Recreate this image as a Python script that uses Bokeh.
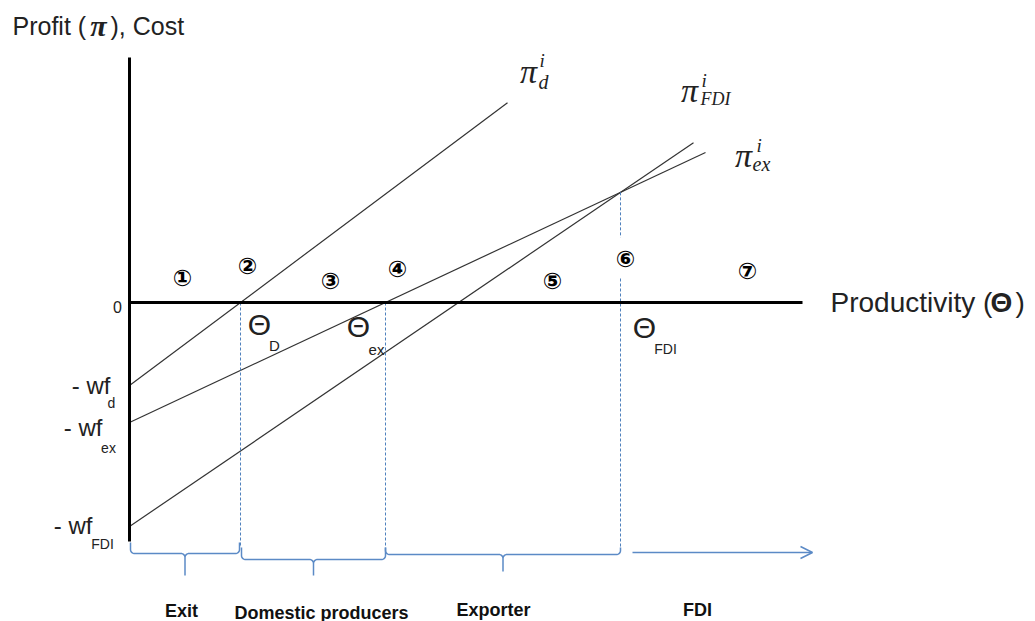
from bokeh.plotting import figure
from bokeh.models import Range1d, Arrow, OpenHead
from bokeh.core.properties import value
from bokeh.embed import file_html
from bokeh.resources import INLINE
import numpy as np

# ---------------- data ----------------
segments = ["d", "ex", "FDI"]
fixed_cost = [0.83, 1.20, 2.24]          # wf_d, wf_ex, wf_FDI  (profit at zero productivity = -wf)
line_end_x = [3.78, 5.76, 5.64]          # where each profit line is drawn to
theta_D = 1.11
theta_ex = 2.56
theta_FDI = 4.91
region_names = ["Exit", "Domestic producers", "Exporter", "FDI"]
region_bounds = [0.01, theta_D, theta_ex, theta_FDI, 6.83]
region_label_x = [0.52, 1.92, 3.64, 5.68]
region_label_y = [-3.08, -3.10, -3.07, -3.07]
region_numbers = ["①", "②", "③", "④", "⑤", "⑥", "⑦"]
number_x = [0.53, 1.18, 2.01, 2.68, 4.23, 4.96, 6.18]
number_y = [0.25, 0.37, 0.22, 0.34, 0.22, 0.44, 0.32]
axis_x_max = 6.73
axis_y_min, axis_y_max = -2.39, 2.45

# ---------------- derived ----------------
slope_d = fixed_cost[0] / theta_D
slope_ex = fixed_cost[1] / theta_ex
y_cross = -fixed_cost[1] + slope_ex * theta_FDI
slope_fdi = (y_cross + fixed_cost[2]) / theta_FDI
slopes = [slope_d, slope_ex, slope_fdi]

BLUE = "#4f81bd"
BRACE = "#5b8ac6"
INK = "#222222"

p = figure(width=1035, height=621, x_range=Range1d(-1.29, 9.06), y_range=Range1d(-3.19, 3.02),
           output_backend="svg", toolbar_location=None, min_border=0,
           x_axis_type=None, y_axis_type=None)
p.grid.visible = False
p.outline_line_color = None
p.background_fill_color = "white"

# profit lines
for wf, s, xe in zip(fixed_cost, slopes, line_end_x):
    p.line([0, xe], [-wf, -wf + s * xe], line_color="#333333", line_width=1.2)

# dashed thresholds
bottom = -2.45
p.line([theta_D, theta_D], [0, bottom], line_color=BLUE, line_width=1, line_dash="3 2")
p.line([theta_ex, theta_ex], [0, bottom], line_color=BLUE, line_width=1, line_dash="3 2")
p.line([theta_FDI, theta_FDI], [y_cross, 0.65], line_color=BLUE, line_width=1, line_dash="3 2")
p.line([theta_FDI, theta_FDI], [0.24, bottom], line_color=BLUE, line_width=1, line_dash="3 2")

# axes
p.line([0, 0], [axis_y_min, axis_y_max], line_color="black", line_width=3)
p.line([0, axis_x_max], [0, 0], line_color="black", line_width=3)

# braces
def brace(x0, x1, yline, ytop, ytip, r=0.04):
    t = np.linspace(0, np.pi / 2, 8)
    xm = (x0 + x1) / 2
    xs, ys = [x0], [ytop]
    xs += list(x0 + r - r * np.cos(t)); ys += list(yline + r - r * np.sin(t))
    xs += list(xm - r + r * np.sin(t)); ys += list(yline - r + r * np.cos(t))
    xs += [xm]; ys += [ytip]
    xs += [xm]; ys += [yline - r]
    xs += list(xm + r - r * np.cos(t)); ys += list(yline - r + r * np.sin(t))
    xs += list(x1 - r + r * np.sin(t)); ys += list(yline + r - r * np.cos(t))
    xs += [x1]; ys += [ytop]
    p.line(xs, ys, line_color=BRACE, line_width=1.5)

brace(region_bounds[0], region_bounds[1] - 0.01, -2.51, -2.40, -2.73)
brace(region_bounds[1] + 0.01, region_bounds[2], -2.57, -2.45, -2.73)
brace(region_bounds[2], region_bounds[3], -2.52, -2.45, -2.69)
p.add_layout(Arrow(end=OpenHead(size=12, line_color=BRACE, line_width=1.5),
                   x_start=region_bounds[3] + 0.12, y_start=-2.50,
                   x_end=region_bounds[4], y_end=-2.50,
                   line_color=BRACE, line_width=1.5))

sans = value("Liberation Sans")
serif = value("Liberation Serif")

def txt(x, y, s, size, align="center", font=sans, style="normal", color=INK):
    return p.text(x=[x], y=[y], text=[s], text_font=font, text_font_size=size,
                  text_align=align, text_baseline="middle", text_font_style=style, text_color=color)

# region labels
for lx, ly, name in zip(region_label_x, region_label_y, region_names):
    txt(lx, ly, name, "18px", style="bold", color="#111111")

# circled numbers
p.text(x=number_x, y=number_y, text=region_numbers, text_font=value("DejaVu Sans"),
       text_font_size="23px", text_font_style="bold", text_align="center",
       text_baseline="middle", text_color="#000000")

# axis titles
txt(-1.17, 2.77, "Profit (", "25px", align="left")
txt(-0.31, 2.77, "π", "30px", font=serif, style="bold italic")
txt(-0.19, 2.77, "), Cost", "25px", align="left")
txt(7.01, 0.0, "Productivity (", "28px", align="left")
txt(8.72, 0.0, "Θ", "28px", style="bold")
txt(8.86, 0.0, ")", "28px", align="left")

# zero and fixed costs
txt(-0.12, -0.04, "0", "16px")
txt(-0.19, -0.83, "- wf", "24px", align="right")
txt(-0.18, -1.00, "d", "14px")
txt(-0.27, -1.25, "- wf", "24px", align="right")
txt(-0.21, -1.45, "ex", "14px")
txt(-0.37, -2.23, "- wf", "24px", align="right")
txt(-0.27, -2.41, "FDI", "14px")

# thresholds
txt(1.30, -0.22, "Θ", "30px")
txt(1.45, -0.43, "D", "15px")
txt(2.29, -0.24, "Θ", "30px")
txt(2.47, -0.47, "ex", "15px")
txt(5.15, -0.25, "Θ", "30px")
txt(5.36, -0.46, "FDI", "14px")

# line labels
txt(3.99, 2.31, "π", "34px", font=serif, style="italic")
txt(4.10, 2.42, "i", "19px", align="left", font=serif, style="italic")
txt(4.09, 2.21, "d", "20px", align="left", font=serif, style="italic")
txt(5.60, 2.12, "π", "34px", font=serif, style="italic")
txt(5.72, 2.22, "i", "19px", align="left", font=serif, style="italic")
txt(5.71, 2.04, "FDI", "18px", align="left", font=serif, style="italic")
txt(6.14, 1.47, "π", "34px", font=serif, style="italic")
txt(6.27, 1.57, "i", "19px", align="left", font=serif, style="italic")
txt(6.23, 1.39, "ex", "20px", align="left", font=serif, style="italic")

open("out.html", "w").write(file_html(p, INLINE))
